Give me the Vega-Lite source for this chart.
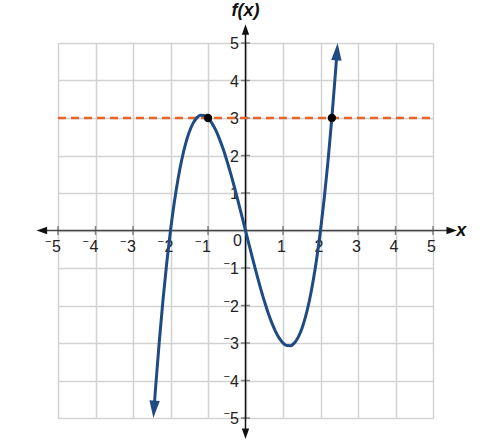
{
  "$schema": "https://vega.github.io/schema/vega-lite/v6.json",
  "width": 375,
  "height": 375,
  "autosize": "none",
  "padding": {"left": 58, "top": 43, "right": 54, "bottom": 27},
  "background": "white",
  "datasets": {
    "curve": [
      {"x": -2.44, "y": -4.767}, {"x": -2.4, "y": -4.224}, {"x": -2.3, "y": -2.967},
      {"x": -2.2, "y": -1.848}, {"x": -2.1, "y": -0.861}, {"x": -2.0, "y": 0},
      {"x": -1.9, "y": 0.741}, {"x": -1.8, "y": 1.368}, {"x": -1.7, "y": 1.887},
      {"x": -1.6, "y": 2.304}, {"x": -1.5, "y": 2.625}, {"x": -1.4, "y": 2.856},
      {"x": -1.3, "y": 3.003}, {"x": -1.2, "y": 3.072}, {"x": -1.1, "y": 3.069},
      {"x": -1.0, "y": 3.0}, {"x": -0.9, "y": 2.871}, {"x": -0.8, "y": 2.688},
      {"x": -0.7, "y": 2.457}, {"x": -0.6, "y": 2.184}, {"x": -0.5, "y": 1.875},
      {"x": -0.4, "y": 1.536}, {"x": -0.3, "y": 1.173}, {"x": -0.2, "y": 0.792},
      {"x": -0.1, "y": 0.399}, {"x": 0, "y": 0},
      {"x": 0.1, "y": -0.399}, {"x": 0.2, "y": -0.792}, {"x": 0.3, "y": -1.173},
      {"x": 0.4, "y": -1.536}, {"x": 0.5, "y": -1.875}, {"x": 0.6, "y": -2.184},
      {"x": 0.7, "y": -2.457}, {"x": 0.8, "y": -2.688}, {"x": 0.9, "y": -2.871},
      {"x": 1.0, "y": -3.0}, {"x": 1.1, "y": -3.069}, {"x": 1.2, "y": -3.072},
      {"x": 1.3, "y": -3.003}, {"x": 1.4, "y": -2.856}, {"x": 1.5, "y": -2.625},
      {"x": 1.6, "y": -2.304}, {"x": 1.7, "y": -1.887}, {"x": 1.8, "y": -1.368},
      {"x": 1.9, "y": -0.741}, {"x": 2.0, "y": 0}, {"x": 2.1, "y": 0.861},
      {"x": 2.2, "y": 1.848}, {"x": 2.3, "y": 2.967}, {"x": 2.4, "y": 4.224},
      {"x": 2.44, "y": 4.767}
    ],
    "hline": [{"x": -5, "y": 3}, {"x": 5, "y": 3}],
    "pts": [{"x": -1, "y": 3}, {"x": 2.303, "y": 3}],
    "arrows": [
      {"x": 2.44, "y": 4.77, "dir": "curveup"},
      {"x": -2.44, "y": -4.77, "dir": "curvedown"},
      {"x": 5.5, "y": 0, "dir": "right"},
      {"x": -5.43, "y": 0, "dir": "left"},
      {"x": 0, "y": 5.36, "dir": "up"},
      {"x": 0, "y": -5.42, "dir": "down"}
    ],
    "xaxisline": [{"x": -5.43, "x2": 5.5, "y": 0}],
    "yaxisline": [{"x": 0, "y": -5.42, "y2": 5.36}],
    "xticks": [
      {"x": -5, "y": 0, "label": "5", "sign": "−"}, {"x": -4, "y": 0, "label": "4", "sign": "−"},
      {"x": -3, "y": 0, "label": "3", "sign": "−"}, {"x": -2, "y": 0, "label": "2", "sign": "−"},
      {"x": -1, "y": 0, "label": "1", "sign": "−"}, {"x": 1, "y": 0, "label": "1", "sign": ""},
      {"x": 2, "y": 0, "label": "2", "sign": ""}, {"x": 3, "y": 0, "label": "3", "sign": ""},
      {"x": 4, "y": 0, "label": "4", "sign": ""}, {"x": 5, "y": 0, "label": "5", "sign": ""}
    ],
    "yticks": [
      {"x": 0, "y": -5, "label": "5", "sign": "−"}, {"x": 0, "y": -4, "label": "4", "sign": "−"},
      {"x": 0, "y": -3, "label": "3", "sign": "−"}, {"x": 0, "y": -2, "label": "2", "sign": "−"},
      {"x": 0, "y": -1, "label": "1", "sign": "−"}, {"x": 0, "y": 1, "label": "1", "sign": ""},
      {"x": 0, "y": 2, "label": "2", "sign": ""}, {"x": 0, "y": 3, "label": "3", "sign": ""},
      {"x": 0, "y": 4, "label": "4", "sign": ""}, {"x": 0, "y": 5, "label": "5", "sign": ""}
    ],
    "origin": [{"x": 0, "y": 0, "label": "0"}],
    "titles": [
      {"x": 5.62, "y": 0, "label": "x", "which": "x"},
      {"x": 0, "y": 5.85, "label": "f(x)", "which": "y"}
    ]
  },
  "encoding": {
    "x": {
      "field": "x", "type": "quantitative",
      "scale": {"domain": [-5, 5], "nice": false, "zero": false},
      "axis": {
        "values": [-5, -4, -3, -2, -1, 0, 1, 2, 3, 4, 5],
        "grid": true, "labels": false, "ticks": false, "domain": false, "title": null,
        "gridColor": "#d2d2d2", "gridWidth": 1.5
      }
    },
    "y": {
      "field": "y", "type": "quantitative",
      "scale": {"domain": [-5, 5], "nice": false, "zero": false},
      "axis": {
        "values": [-5, -4, -3, -2, -1, 0, 1, 2, 3, 4, 5],
        "grid": true, "labels": false, "ticks": false, "domain": false, "title": null,
        "gridColor": "#d2d2d2", "gridWidth": 1.5
      }
    }
  },
  "layer": [
    {
      "data": {"name": "xticks"},
      "mark": {"type": "tick", "orient": "vertical", "size": 9, "thickness": 1.5, "color": "#555"}
    },
    {
      "data": {"name": "yticks"},
      "mark": {"type": "tick", "orient": "horizontal", "size": 9, "thickness": 1.5, "color": "#555"}
    },
    {
      "data": {"name": "xticks"},
      "mark": {"type": "text", "align": "center", "baseline": "middle", "dx": -1.5, "dy": 16, "font": "Liberation Sans", "fontSize": 16, "color": "#222"},
      "encoding": {"text": {"field": "label"}}
    },
    {
      "data": {"name": "xticks"},
      "mark": {"type": "text", "align": "right", "baseline": "middle", "dx": -6.5, "dy": 11, "font": "Liberation Sans", "fontSize": 11, "color": "#222"},
      "encoding": {"text": {"field": "sign"}}
    },
    {
      "data": {"name": "yticks"},
      "mark": {"type": "text", "align": "right", "baseline": "middle", "dx": -6.5, "dy": 1, "font": "Liberation Sans", "fontSize": 16, "color": "#222"},
      "encoding": {"text": {"field": "label"}}
    },
    {
      "data": {"name": "yticks"},
      "mark": {"type": "text", "align": "right", "baseline": "middle", "dx": -15.5, "dy": -4, "font": "Liberation Sans", "fontSize": 11, "color": "#222"},
      "encoding": {"text": {"field": "sign"}}
    },
    {
      "data": {"name": "origin"},
      "mark": {"type": "text", "align": "center", "baseline": "middle", "dx": -8, "dy": 10, "font": "Liberation Sans", "fontSize": 16, "color": "#222"},
      "encoding": {"text": {"field": "label"}}
    },
    {
      "data": {"name": "xaxisline"},
      "mark": {"type": "rule", "color": "#444", "strokeWidth": 1.5},
      "encoding": {"x2": {"field": "x2"}}
    },
    {
      "data": {"name": "yaxisline"},
      "mark": {"type": "rule", "color": "#111", "strokeWidth": 1.5},
      "encoding": {"y2": {"field": "y2"}}
    },
    {
      "data": {"name": "hline"},
      "mark": {"type": "line", "color": "#e5652a", "strokeWidth": 2.5, "strokeDash": [8, 5]}
    },
    {
      "data": {"name": "curve"},
      "mark": {"type": "line", "color": "#1f4b82", "strokeWidth": 3, "interpolate": "monotone"}
    },
    {
      "data": {"name": "arrows"},
      "transform": [{"filter": "datum.dir === 'curveup'"}],
      "mark": {"type": "point", "shape": "M0,-1L0.6,1L-0.6,1Z", "size": 300, "angle": 4, "filled": true, "opacity": 1, "color": "#1f4b82"}
    },
    {
      "data": {"name": "arrows"},
      "transform": [{"filter": "datum.dir === 'curvedown'"}],
      "mark": {"type": "point", "shape": "M0,-1L0.6,1L-0.6,1Z", "size": 300, "angle": 184, "filled": true, "opacity": 1, "color": "#1f4b82"}
    },
    {
      "data": {"name": "arrows"},
      "transform": [{"filter": "datum.dir === 'right'"}],
      "mark": {"type": "point", "shape": "M0,-1L0.7,1L-0.7,1Z", "size": 110, "angle": 90, "filled": true, "opacity": 1, "color": "#111"}
    },
    {
      "data": {"name": "arrows"},
      "transform": [{"filter": "datum.dir === 'left'"}],
      "mark": {"type": "point", "shape": "M0,-1L0.7,1L-0.7,1Z", "size": 110, "angle": 270, "filled": true, "opacity": 1, "color": "#111"}
    },
    {
      "data": {"name": "arrows"},
      "transform": [{"filter": "datum.dir === 'up'"}],
      "mark": {"type": "point", "shape": "M0,-1L0.7,1L-0.7,1Z", "size": 110, "angle": 0, "filled": true, "opacity": 1, "color": "#111"}
    },
    {
      "data": {"name": "arrows"},
      "transform": [{"filter": "datum.dir === 'down'"}],
      "mark": {"type": "point", "shape": "M0,-1L0.7,1L-0.7,1Z", "size": 110, "angle": 180, "filled": true, "opacity": 1, "color": "#111"}
    },
    {
      "data": {"name": "pts"},
      "mark": {"type": "point", "shape": "circle", "size": 70, "filled": true, "opacity": 1, "color": "#000"}
    },
    {
      "data": {"name": "titles"},
      "transform": [{"filter": "datum.which === 'x'"}],
      "mark": {"type": "text", "align": "left", "baseline": "middle", "font": "Liberation Sans", "fontSize": 18, "fontStyle": "italic", "fontWeight": "bold", "color": "#111"},
      "encoding": {"text": {"field": "label"}}
    },
    {
      "data": {"name": "titles"},
      "transform": [{"filter": "datum.which === 'y'"}],
      "mark": {"type": "text", "align": "center", "baseline": "middle", "font": "Liberation Sans", "fontSize": 18, "fontStyle": "italic", "fontWeight": "bold", "color": "#111"},
      "encoding": {"text": {"field": "label"}}
    }
  ],
  "config": {"view": {"stroke": null}}
}
